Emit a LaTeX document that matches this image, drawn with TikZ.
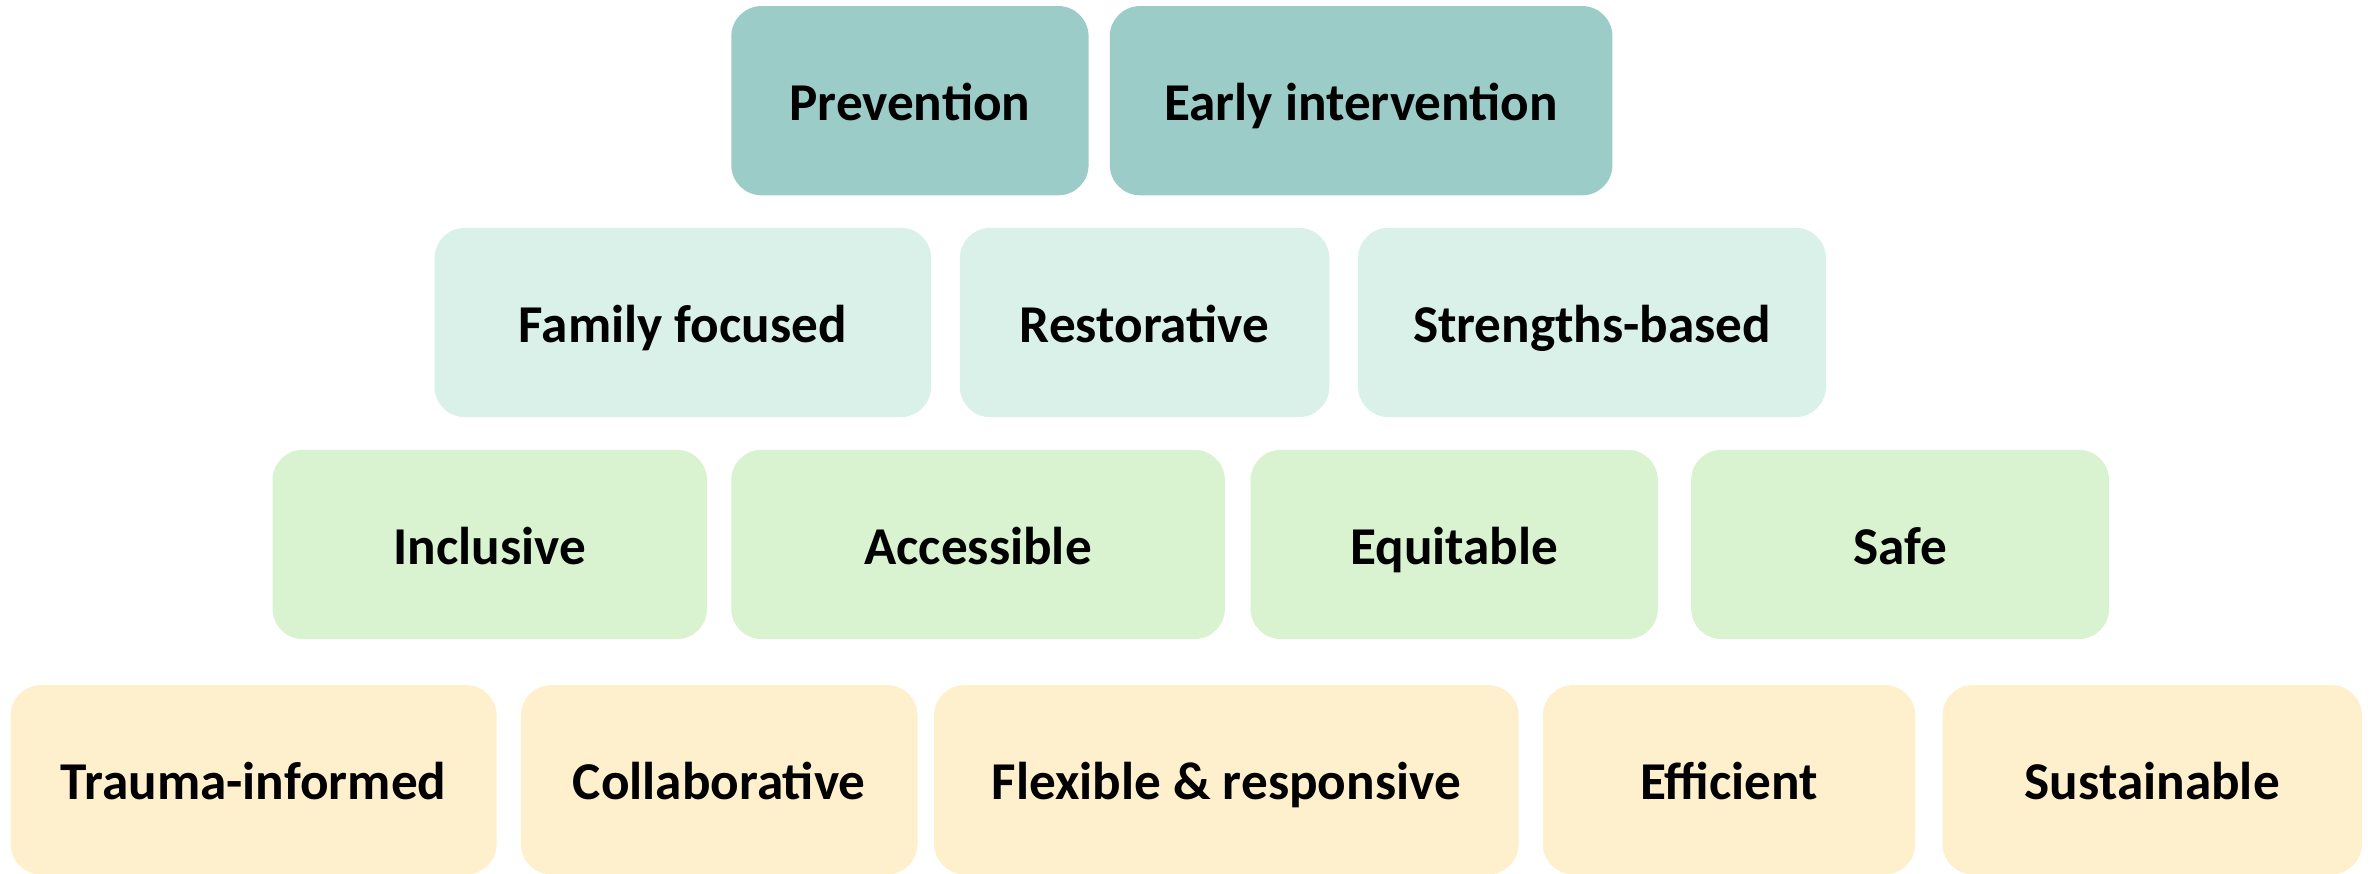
\documentclass[tikz,border=0pt]{standalone}
\usepackage{fontspec}
\setmainfont{Carlito}
\definecolor{tealbox}{RGB}{156,204,200}
\definecolor{mintbox}{RGB}{218,241,234}
\definecolor{greenbox}{RGB}{217,242,208}
\definecolor{sandbox}{RGB}{255,240,205}
\tikzset{
  tile/.style={rounded corners=2mm, inner sep=0pt, outer sep=0pt, minimum height=12.5mm,
    text height=0.95em, text depth=0.2em,
    font=\fontsize{10}{12}\selectfont\bfseries, text=black},
}

\begin{document}
\begin{tikzpicture}[x=0.1mm, y=-0.1mm]
  \useasboundingbox (0,0) rectangle (1568,577);
  % top row
  \foreach \nm/\cx/\w/\txt in {prev/601/236/Prevention, early/899/332/Early intervention}{
    \node[tile, fill=tealbox, minimum width=\w*0.1mm] (\nm) at (\cx,66.5) {\txt};
  }
  % second row
  \foreach \nm/\cx/\w/\txt in {family/451/328/Family focused, restor/756/244/Restorative, strength/1051.5/309/Strengths-based}{
    \node[tile, fill=mintbox, minimum width=\w*0.1mm] (\nm) at (\cx,213) {\txt};
  }
  % third row
  \foreach \nm/\cx/\w/\txt in {incl/323.5/287/Inclusive, access/646/326/Accessible, equit/960.5/269/Equitable, safe/1255/276/Safe}{
    \node[tile, fill=greenbox, minimum width=\w*0.1mm] (\nm) at (\cx,359.6) {\txt};
  }
  % bottom row
  \foreach \nm/\cx/\w/\txt in {trauma/167.5/321/Trauma-informed, collab/475/262/Collaborative, flex/810/386/Flexible \& responsive, effic/1142/246/Efficient, sustain/1421.5/277/Sustainable}{
    \node[tile, fill=sandbox, minimum width=\w*0.1mm] (\nm) at (\cx,515) {\txt};
  }
\end{tikzpicture}
\end{document}
